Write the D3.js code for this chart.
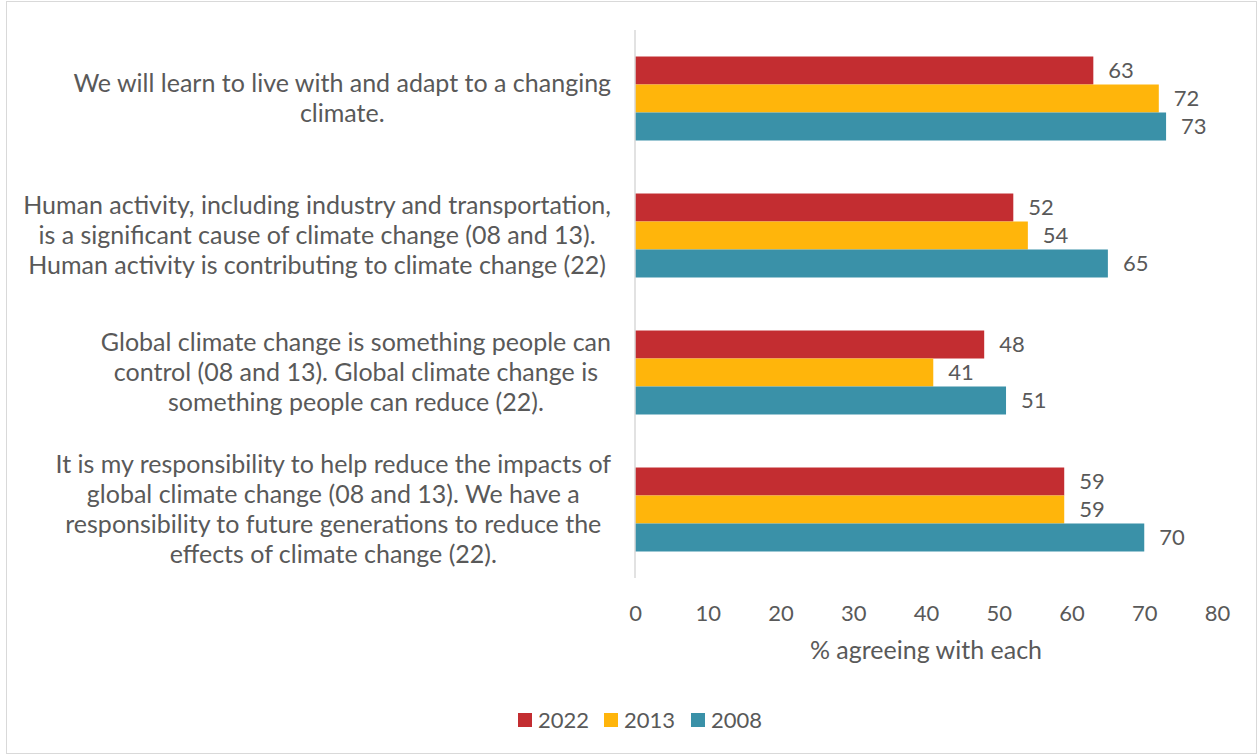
<!DOCTYPE html>
<html>
<head>
<meta charset="utf-8">
<script src="https://cdn.jsdelivr.net/npm/d3@7"></script>
<style>
  body { margin: 0; background: #fff; }
  svg { font-family: Lato, "Open Sans", sans-serif; }
  .text { fill: #595959; }
</style>
</head>
<body>
<script>
// Data
var statements = [
    ["We will learn to live with and adapt to a changing", "climate."],
    ["Human activity, including industry and transportation,", "is a significant cause of climate change (08 and 13).", "Human activity is contributing to climate change (22)"],
    ["Global climate change is something people can", "control (08 and 13). Global climate change is", "something people can reduce (22)."],
    ["It is my responsibility to help reduce the impacts of", "global climate change (08 and 13). We have a", "responsibility to future generations to reduce the", "effects of climate change (22)."]
];
var years = ["2022", "2013", "2008"];
var values2022 = [63, 52, 48, 59];
var values2013 = [72, 54, 41, 59];
var values2008 = [73, 65, 51, 70];
var xTicks = [0, 10, 20, 30, 40, 50, 60, 70, 80];
var axisTitle = "% agreeing with each";

var colors = { "2022": "#c32d31", "2013": "#ffb50b", "2008": "#3a91a8" };

// Set up chart
var svgWidth = 1258;
var svgHeight = 755;
var textSize = 25;   // words
var numSize = 22;    // digits

var svg = d3.select("body")
    .append("svg")
    .attr("width", svgWidth)
    .attr("height", svgHeight);

// outer border
svg.append("rect")
    .attr("x", 6.5).attr("y", 1.5)
    .attr("width", svgWidth - 8).attr("height", svgHeight - 3)
    .attr("fill", "none")
    .attr("stroke", "#d9d9d9");

var rows = statements.map(function (s, i) {
    return { lines: s, key: i, v: { "2022": values2022[i], "2013": values2013[i], "2008": values2008[i] } };
});

var xScale = d3.scaleLinear()
    .domain([0, 80])
    .range([635, 1217]);

var yScale = d3.scaleBand()
    .domain(rows.map(d => d.key))
    .range([30, 578])
    .paddingInner(0.387)
    .paddingOuter(0.387 / 2);

var ySub = d3.scaleBand()
    .domain(years)
    .range([0, yScale.bandwidth()]);

// bars
var groups = svg.selectAll(".group")
    .data(rows)
    .enter()
    .append("g")
    .classed("group", true)
    .attr("transform", d => `translate(0, ${yScale(d.key)})`);

groups.selectAll("rect")
    .data(d => years.map(y => ({ year: y, value: d.v[y] })))
    .enter()
    .append("rect")
    .attr("x", xScale(0))
    .attr("y", d => ySub(d.year))
    .attr("width", d => xScale(d.value) - xScale(0))
    .attr("height", ySub.bandwidth())
    .attr("fill", d => colors[d.year]);

groups.selectAll(".label")
    .data(d => years.map(y => ({ year: y, value: d.v[y] })))
    .enter()
    .append("text")
    .classed("label text", true)
    .attr("x", d => xScale(d.value) + 15)
    .attr("y", d => ySub(d.year) + ySub.bandwidth() / 2)
    .attr("dy", "0.35em")
    .style("font-size", numSize + "px")
    .text(d => d.value);

// vertical axis line
svg.append("line")
    .attr("x1", xScale(0)).attr("x2", xScale(0))
    .attr("y1", yScale.range()[0]).attr("y2", yScale.range()[1])
    .attr("stroke", "#d9d9d9")
    .attr("stroke-width", 1.5);

// category labels: lines centred within a block right-aligned at 611
var lineHeight = 30;
groups.each(function (d) {
    var g = d3.select(this);
    var t = g.append("text")
        .classed("text", true)
        .style("font-size", textSize + "px")
        .attr("text-anchor", "middle");
    var spans = t.selectAll("tspan")
        .data(d.lines)
        .enter()
        .append("tspan")
        .text(l => l);
    var maxW = d3.max(spans.nodes(), n => n.getComputedTextLength());
    var cx = 611 - maxW / 2;
    var mid = yScale.bandwidth() / 2;
    spans.attr("x", cx)
        .attr("y", (l, i) => mid + (i - (d.lines.length - 1) / 2) * lineHeight)
        .attr("dy", "0.35em");
});

// x axis
var bottomAxis = d3.axisBottom(xScale)
    .tickValues(xTicks)
    .tickSize(0)
    .tickPadding(0);

var axisG = svg.append("g")
    .attr("transform", "translate(0, 613)")
    .call(bottomAxis);
axisG.select(".domain").remove();
axisG.selectAll("text")
    .attr("class", "text")
    .attr("dy", "0.35em")
    .style("font-size", numSize + "px")
    .style("font-family", "Lato, sans-serif");

svg.append("text")
    .classed("text", true)
    .attr("x", (xScale(0) + xScale(80)) / 2)
    .attr("y", 650)
    .attr("dy", "0.35em")
    .attr("text-anchor", "middle")
    .style("font-size", textSize + "px")
    .text(axisTitle);

// legend
var legendX = [518, 604, 691];
var legend = svg.selectAll(".legend")
    .data(years)
    .enter()
    .append("g")
    .attr("transform", (d, i) => `translate(${legendX[i]}, 720)`);

legend.append("rect")
    .attr("x", 0).attr("y", -7)
    .attr("width", 14).attr("height", 14)
    .attr("fill", d => colors[d]);

legend.append("text")
    .classed("text", true)
    .attr("x", 20)
    .attr("dy", "0.35em")
    .style("font-size", numSize + "px")
    .text(d => d);
</script>
</body>
</html>
